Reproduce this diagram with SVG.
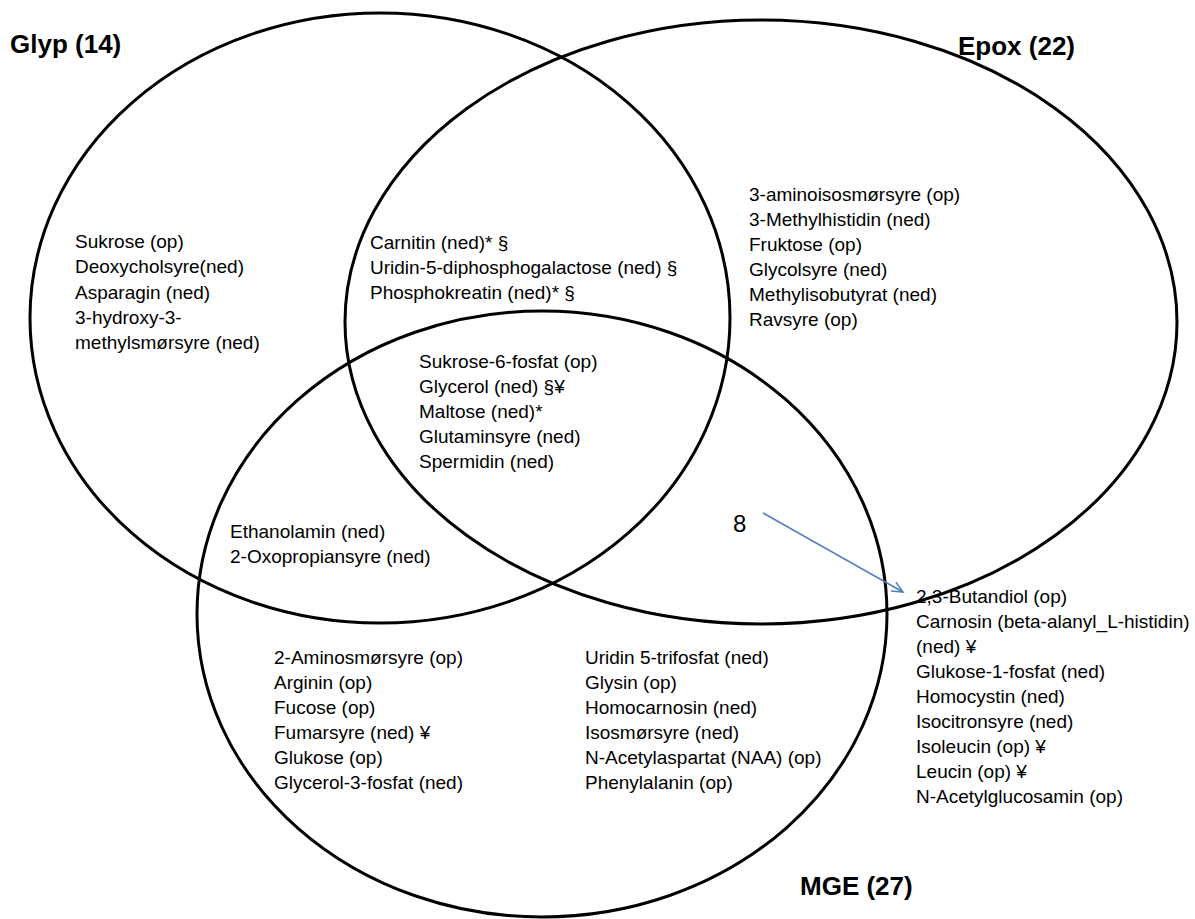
<svg xmlns="http://www.w3.org/2000/svg" width="1195" height="919" viewBox="0 0 1195 919">
<defs>
<style>
.c{fill:none;stroke:#000;stroke-width:3}
.t{font-family:"Liberation Sans",Arial,sans-serif;font-size:19px;fill:#000}
.h{font-family:"Liberation Sans",Arial,sans-serif;font-size:26px;font-weight:bold;fill:#000}
.a{stroke:#4F81BD;stroke-width:1.5;fill:none}
</style>
<marker id="ar" markerWidth="14" markerHeight="12" refX="12" refY="6" orient="auto" markerUnits="userSpaceOnUse">
<path d="M1,1 L12,6 L1,11" fill="none" stroke="#4F81BD" stroke-width="1.5"/>
</marker>
</defs>
<rect width="1195" height="919" fill="#fff"/>
<g id="circles">
<ellipse id="glyp-circle" class="c" cx="380" cy="318" rx="350" ry="305"/>
<ellipse id="epox-circle" class="c" cx="761" cy="322" rx="416" ry="302"/>
<ellipse id="mge-circle" class="c" cx="542" cy="614" rx="345" ry="303"/>
</g>
<g id="titles">
<text class="h" x="10" y="53">Glyp (14)</text>
<text class="h" x="958" y="55">Epox (22)</text>
<text class="h" x="800" y="895">MGE (27)</text>
</g>
<g id="glyp-only" class="t">
<text x="75" y="248">Sukrose (op)</text>
<text x="75" y="273">Deoxycholsyre(ned)</text>
<text x="75" y="299">Asparagin (ned)</text>
<text x="75" y="324">3-hydroxy-3-</text>
<text x="75" y="349">methylsmørsyre (ned)</text>
</g>
<g id="glyp-epox" class="t">
<text x="370" y="249">Carnitin (ned)* §</text>
<text x="370" y="274">Uridin-5-diphosphogalactose (ned) §</text>
<text x="370" y="299">Phosphokreatin (ned)* §</text>
</g>
<g id="all-three" class="t">
<text x="419" y="368">Sukrose-6-fosfat (op)</text>
<text x="419" y="393">Glycerol (ned) §¥</text>
<text x="419" y="418">Maltose (ned)*</text>
<text x="419" y="443">Glutaminsyre (ned)</text>
<text x="419" y="468">Spermidin (ned)</text>
</g>
<g id="epox-only" class="t">
<text x="749" y="201">3-aminoisosmørsyre (op)</text>
<text x="749" y="226">3-Methylhistidin (ned)</text>
<text x="749" y="251">Fruktose (op)</text>
<text x="749" y="276">Glycolsyre (ned)</text>
<text x="749" y="301">Methylisobutyrat (ned)</text>
<text x="749" y="326">Ravsyre (op)</text>
</g>
<g id="glyp-mge" class="t">
<text x="230" y="538">Ethanolamin (ned)</text>
<text x="230" y="563">2-Oxopropiansyre (ned)</text>
</g>
<g id="mge-only-left" class="t">
<text x="274" y="664">2-Aminosmørsyre (op)</text>
<text x="274" y="689">Arginin (op)</text>
<text x="274" y="714">Fucose (op)</text>
<text x="274" y="739">Fumarsyre (ned) ¥</text>
<text x="274" y="764">Glukose (op)</text>
<text x="274" y="789">Glycerol-3-fosfat (ned)</text>
</g>
<g id="mge-only-right" class="t">
<text x="585" y="664">Uridin 5-trifosfat (ned)</text>
<text x="585" y="689">Glysin (op)</text>
<text x="585" y="714">Homocarnosin (ned)</text>
<text x="585" y="739">Isosmørsyre (ned)</text>
<text x="585" y="764">N-Acetylaspartat (NAA) (op)</text>
<text x="585" y="789">Phenylalanin  (op)</text>
</g>
<g id="epox-mge-count">
<text x="733" y="532" style="font-family:'Liberation Sans',Arial,sans-serif;font-size:24px">8</text>
</g>
<g id="epox-mge-list" class="t">
<text x="916" y="603">2,3-Butandiol (op)</text>
<text x="916" y="628">Carnosin (beta-alanyl_L-histidin)</text>
<text x="916" y="653">(ned) ¥</text>
<text x="916" y="678">Glukose-1-fosfat (ned)</text>
<text x="916" y="703">Homocystin (ned)</text>
<text x="916" y="728">Isocitronsyre (ned)</text>
<text x="916" y="753">Isoleucin (op) ¥</text>
<text x="916" y="778">Leucin (op) ¥</text>
<text x="916" y="803">N-Acetylglucosamin (op)</text>
</g>
<g id="connectors">
<line class="a" x1="763" y1="513" x2="903" y2="592" marker-end="url(#ar)"/>
</g>
</svg>
